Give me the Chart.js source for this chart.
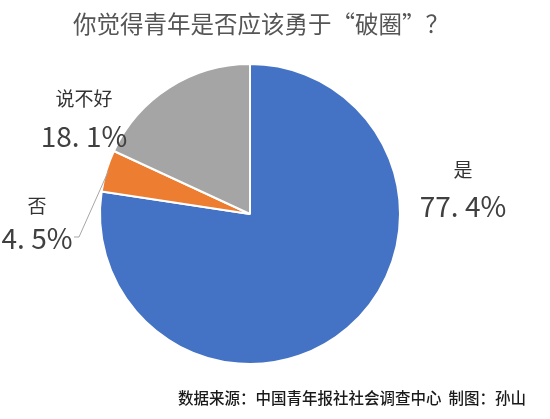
<!DOCTYPE html>
<html>
<head>
<meta charset="utf-8">
<script src="https://cdn.jsdelivr.net/npm/chart.js@4"></script>
<style>
  html, body { margin: 0; padding: 0; background: #fff; }
  #wrap { width: 550px; height: 419px; position: relative; }
</style>
</head>
<body>
<div id="wrap"><canvas id="pieChart" width="550" height="419"></canvas></div>
<script>
const titleText = '你觉得青年是否应该勇于“破圈”？';
const sourceText = '数据来源：中国青年报社社会调查中心  制图：孙山';
const categories = ['是', '否', '说不好'];
const shares = [77.4, 4.5, 18.1];
const shareLabels = ['77. 4%', '4. 5%', '18. 1%'];
const colors = ['#4472C4', '#ED7D31', '#A5A5A5'];

// where each label block sits (name line, value line)
const labelSpots = [
    { x: 463, nameY: 170, valueY: 206 },
    { x: 37, nameY: 206, valueY: 238 },
    { x: 84, nameY: 99, valueY: 136 }
];

const cjk = '"Noto Sans CJK SC", "Noto Sans", sans-serif';

const textPlugin = {
    id: 'textPlugin',
    afterDraw(chart) {
        const ctx = chart.ctx;
        ctx.save();
        ctx.textAlign = 'center';
        ctx.textBaseline = 'middle';

        // title
        ctx.fillStyle = '#555555';
        ctx.font = '23.5px ' + cjk;
        ctx.fillText(titleText, 261, 24);

        // source line
        ctx.fillStyle = '#1a1a1a';
        ctx.font = '500 15.5px ' + cjk;
        ctx.textAlign = 'right';
        ctx.fillText(sourceText, 526, 398);
        ctx.textAlign = 'center';

        // leader line for the small slice
        const arc = chart.getDatasetMeta(0).data[1];
        const mid = (arc.startAngle + arc.endAngle) / 2;
        const ex = arc.x + Math.cos(mid) * (arc.outerRadius - 2);
        const ey = arc.y + Math.sin(mid) * (arc.outerRadius - 2);
        ctx.strokeStyle = '#A6A6A6';
        ctx.lineWidth = 1;
        ctx.beginPath();
        ctx.moveTo(74, 237);
        ctx.lineTo(79, 237);
        ctx.lineTo(ex, ey);
        ctx.stroke();

        categories.forEach((name, i) => {
            const s = labelSpots[i];
            ctx.fillStyle = '#333333';
            ctx.font = '19px ' + cjk;
            ctx.fillText(name, s.x, s.nameY);
            ctx.fillStyle = '#404040';
            ctx.font = '28px ' + cjk;
            ctx.fillText(shareLabels[i], s.x, s.valueY);
        });
        ctx.restore();
    }
};

new Chart(document.getElementById('pieChart'), {
    type: 'pie',
    data: {
        labels: categories,
        datasets: [{
            data: shares,
            backgroundColor: colors,
            borderColor: '#ffffff',
            borderWidth: 2
        }]
    },
    options: {
        responsive: false,
        animation: false,
        events: [],
        layout: {
            padding: { left: 99, right: 149, top: 63, bottom: 54 }
        },
        plugins: {
            legend: { display: false },
            title: { display: false },
            tooltip: { enabled: false }
        }
    },
    plugins: [textPlugin]
});
</script>
</body>
</html>
